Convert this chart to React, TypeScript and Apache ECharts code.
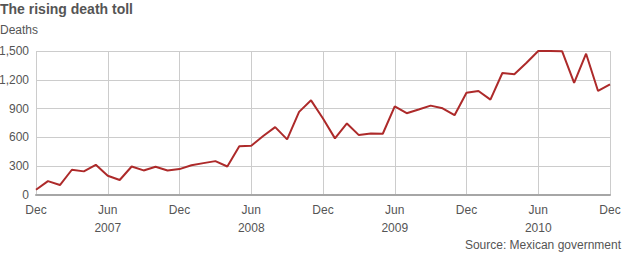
import React, { useEffect, useRef } from "react";
import * as echarts from "echarts";

const months: string[] = [
  "Dec 2006",
  "Jan 2007", "Feb 2007", "Mar 2007", "Apr 2007", "May 2007", "Jun 2007",
  "Jul 2007", "Aug 2007", "Sep 2007", "Oct 2007", "Nov 2007", "Dec 2007",
  "Jan 2008", "Feb 2008", "Mar 2008", "Apr 2008", "May 2008", "Jun 2008",
  "Jul 2008", "Aug 2008", "Sep 2008", "Oct 2008", "Nov 2008", "Dec 2008",
  "Jan 2009", "Feb 2009", "Mar 2009", "Apr 2009", "May 2009", "Jun 2009",
  "Jul 2009", "Aug 2009", "Sep 2009", "Oct 2009", "Nov 2009", "Dec 2009",
  "Jan 2010", "Feb 2010", "Mar 2010", "Apr 2010", "May 2010", "Jun 2010",
  "Jul 2010", "Aug 2010", "Sep 2010", "Oct 2010", "Nov 2010", "Dec 2010",
];

const deaths: number[] = [
  55,
  145, 104, 263, 246, 315, 200, 156, 297, 256, 294, 256, 270,
  310, 332, 353, 297, 507, 514, 614, 707, 579, 866, 986, 797,
  590, 745, 624, 641, 638, 924, 852, 891, 931, 903, 831, 1066,
  1084, 994, 1271, 1257, 1375, 1500, 1500, 1497, 1167, 1472, 1084, 1153,
];

const yTicks = { min: 0, max: 1500, interval: 300 };

const titleText = "The rising death toll";
const unitText = "Deaths";
const sourceText = "Source: Mexican government";

const FONT = "'Liberation Sans', Arial, Helvetica, sans-serif";
const TEXT = "#555555";

export default function App() {
  const ref = useRef<HTMLDivElement>(null);

  useEffect(() => {
    if (!ref.current) return;
    const chart = echarts.init(ref.current, undefined, { renderer: "svg" });
    chart.setOption({
      animation: false,
      textStyle: { fontFamily: FONT },
      grid: { left: 36, right: 14, top: 51, bottom: 60, containLabel: false, outerBoundsMode: "none" },
      graphic: [
        {
          type: "text",
          left: 0,
          top: 2,
          style: { text: titleText, font: `bold 14px ${FONT}`, fill: TEXT },
        },
        {
          type: "text",
          left: 0,
          top: 24,
          style: { text: unitText, font: `12px ${FONT}`, fill: TEXT },
        },
        {
          type: "text",
          right: 3,
          top: 239,
          style: { text: sourceText, font: `12px ${FONT}`, fill: TEXT },
        },
      ],
      xAxis: {
        type: "category",
        data: months,
        boundaryGap: false,
        axisLine: { show: true, lineStyle: { color: "#a6a6a6", width: 2 } },
        axisTick: { show: false },
        axisLabel: {
          interval: 5,
          margin: 6,
          color: TEXT,
          fontSize: 12,
          lineHeight: 18,
          fontFamily: FONT,
          formatter: (v: string) => {
            const [m, y] = v.split(" ");
            return m === "Jun" ? `${m}\n${y}` : m;
          },
        },
        splitLine: { show: true, interval: 5, lineStyle: { color: "#cccccc", width: 1 } },
      },
      yAxis: {
        type: "value",
        min: yTicks.min,
        max: yTicks.max,
        interval: yTicks.interval,
        axisLine: { show: false },
        axisTick: { show: false },
        axisLabel: {
          margin: 7,
          color: TEXT,
          fontSize: 12,
          fontFamily: FONT,
          formatter: (v: number) => v.toLocaleString("en-US"),
        },
        splitLine: { show: true, lineStyle: { color: "#cccccc", width: 1 } },
      },
      series: [
        {
          type: "line",
          data: deaths,
          showSymbol: false,
          symbol: "none",
          lineStyle: { color: "#ad2a2a", width: 2 },
          z: 5,
        },
      ],
    });
    return () => chart.dispose();
  }, []);

  return (
    <div
      ref={ref}
      style={{ position: "absolute", left: 0, top: 0, width: 624, height: 255, background: "#ffffff" }}
    />
  );
}
